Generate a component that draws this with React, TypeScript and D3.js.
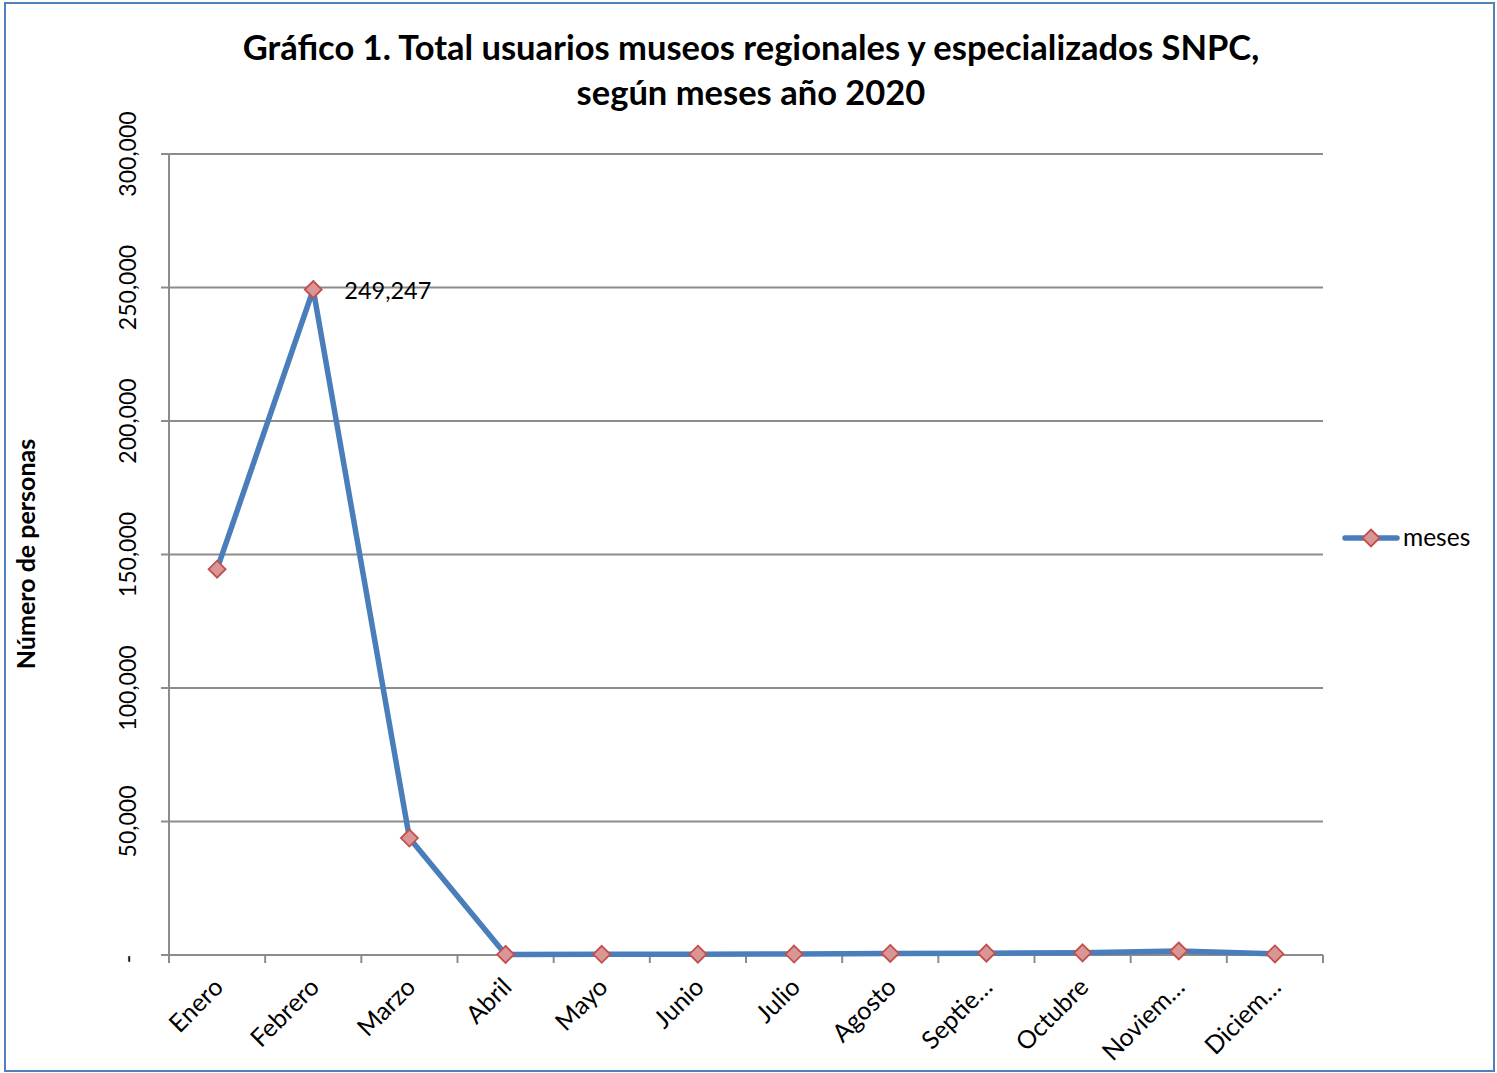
import React from "react";
import * as d3 from "d3";

const months = ["Enero", "Febrero", "Marzo", "Abril", "Mayo", "Junio", "Julio", "Agosto", "Septie…", "Octubre", "Noviem…", "Diciem…"];
const visitors = [144500, 249247, 43800, 200, 250, 300, 350, 600, 700, 800, 1500, 400];
const yTicks = [0, 50000, 100000, 150000, 200000, 250000, 300000];
const titleLines = ["Gráfico 1. Total usuarios museos regionales y especializados SNPC,", "según meses año 2020"];
const seriesName = "meses";
const labelIndex = 1;

const W = 1497;
const H = 1073;
const FONT = "Lato, 'Open Sans', sans-serif";

export default function App() {
  const left = 169, right = 1323, top = 154, bottom = 955;

  const x = d3.scaleBand().domain(months).range([left, right]);
  const y = d3.scaleLinear().domain([0, 300000]).range([bottom, top]);
  const fmt = d3.format(",");

  const line = d3
    .line<number>()
    .x((_, i) => x(months[i])! + x.bandwidth() / 2)
    .y((d) => y(d));

  const diamond = (cx: number, cy: number, r: number) =>
    `M${cx},${cy - r}L${cx + r},${cy}L${cx},${cy + r}L${cx - r},${cy}Z`;

  const gridColor = "#8c8c8c";
  const lineColor = "#4a7ebb";
  const mFill = "#d99694";
  const mStroke = "#c0504d";

  return (
    <svg width={W} height={H} style={{ position: "absolute", left: 0, top: 0, background: "#fff" }}>
      <rect x={5} y={3} width={1489} height={1068} fill="#fff" stroke="#4f81bd" strokeWidth={2} />

      {titleLines.map((t, i) => (
        <text key={i} x={751} y={60 + i * 45} textAnchor="middle" fontFamily={FONT} fontWeight="bold" fontSize={34.5} fill="#000">
          {t}
        </text>
      ))}

      {/* gridlines */}
      {yTicks.map((t) => (
        <g key={t}>
          <line x1={left - 8} x2={right} y1={y(t)} y2={y(t)} stroke={gridColor} strokeWidth={2} />
          <text
            transform={`translate(${left - 41},${t === 0 ? y(t) + 4 : y(t)}) rotate(-90)`}
            textAnchor="middle"
            fontFamily={FONT}
            fontSize={23}
            fill="#000"
            dy="0.35em"
          >
            {t === 0 ? "-" : fmt(t)}
          </text>
        </g>
      ))}

      {/* y axis line */}
      <line x1={left} x2={left} y1={top} y2={bottom + 8} stroke={gridColor} strokeWidth={2} />

      {/* x ticks */}
      {months.map((m) => (
        <line key={m} x1={x(m)!} x2={x(m)!} y1={bottom} y2={bottom + 8} stroke={gridColor} strokeWidth={2} />
      ))}
      <line x1={right} x2={right} y1={bottom} y2={bottom + 8} stroke={gridColor} strokeWidth={2} />

      {months.map((m) => {
        const cx = x(m)! + x.bandwidth() / 2 - 3;
        return (
          <text
            key={m}
            transform={`translate(${cx},${bottom + 23}) rotate(-45)`}
            textAnchor="end"
            fontFamily={FONT}
            fontSize={25}
            fill="#000"
            dy="0.6em"
          >
            {m}
          </text>
        );
      })}

      <text
        transform={`translate(35,${554}) rotate(-90)`}
        textAnchor="middle"
        fontFamily={FONT}
        fontWeight="bold"
        fontSize={25}
        fill="#000"
      >
        Número de personas
      </text>

      {/* series */}
      <path d={line(visitors)!} fill="none" stroke={lineColor} strokeWidth={5.5} strokeLinejoin="round" />
      {visitors.map((v, i) => (
        <path
          key={i}
          d={diamond(x(months[i])! + x.bandwidth() / 2, y(v), 8.5)}
          fill={mFill}
          stroke={mStroke}
          strokeWidth={1.8}
        />
      ))}

      <text
        x={x(months[labelIndex])! + x.bandwidth() / 2 + 31}
        y={y(visitors[labelIndex]) + 9}
        fontFamily={FONT}
        fontSize={23.5}
        fill="#000"
      >
        {fmt(visitors[labelIndex])}
      </text>

      {/* legend */}
      <line x1={1345} x2={1397} y1={538} y2={538} stroke={lineColor} strokeWidth={5.5} strokeLinecap="round" />
      <path d={diamond(1371, 538, 8.5)} fill={mFill} stroke={mStroke} strokeWidth={1.8} />
      <text x={1403} y={546} fontFamily={FONT} fontSize={24.5} fill="#000">
        {seriesName}
      </text>
    </svg>
  );
}
